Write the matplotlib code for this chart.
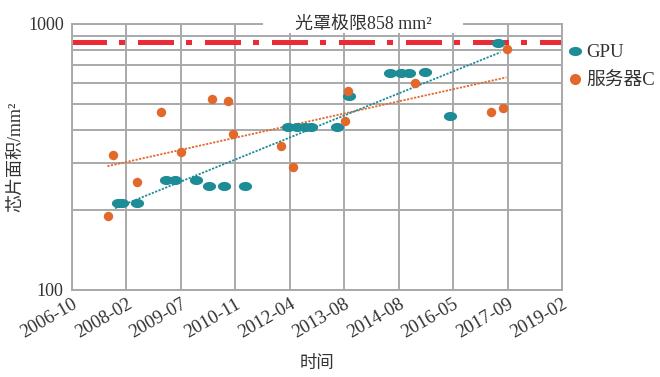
import matplotlib
matplotlib.use("Agg")
import matplotlib.pyplot as plt
from matplotlib.lines import Line2D
from matplotlib.patches import Rectangle
from matplotlib.path import Path
from matplotlib.ticker import FixedLocator, NullFormatter
import numpy as np

# Category positions on the time axis (evenly spaced labels)
tick_labels = ["2006-10", "2008-02", "2009-07", "2010-11", "2012-04",
               "2013-08", "2014-08", "2016-05", "2017-09", "2019-02"]

# GPU die areas (x in tick-label units, y in mm^2)
gpu_x = [0.84, 0.92, 1.19, 1.73, 1.89, 2.28, 2.52, 2.79, 3.18,
         3.97, 4.13, 4.28, 4.39, 4.86, 5.08, 5.84, 6.04, 6.19, 6.48,
         6.94, 7.82]
gpu_y = [212, 212, 212, 259, 259, 260, 245, 245, 245,
         411, 411, 411, 411, 411, 536, 656, 656, 656, 658,
         451, 851]

# Server CPU die areas
cpu_x = [0.67, 0.75, 1.19, 1.63, 2.00, 2.58, 2.87, 2.95, 3.84, 4.05,
         5.01, 5.07, 6.30, 7.70, 7.91, 7.99]
cpu_y = [190, 322, 255, 467, 330, 524, 512, 386, 348, 291,
         433, 560, 599, 467, 482, 808]

# Trend line end points
gpu_trend_x = [0.79, 7.87]
gpu_trend_y = [203, 783]
cpu_trend_x = [0.65, 7.98]
cpu_trend_y = [292, 630]

reticle_limit = 858

teal = "#1e8c96"
orange = "#e2692c"
red = "#ea2b36"
grid_c = "#a9a9a9"

latin_cjk = ["Liberation Serif", "Noto Sans CJK SC"]

# Horizontal ellipse marker for the GPU series
t = np.linspace(0, 2 * np.pi, 60)
ellipse = Path(np.column_stack([1.45 * np.cos(t), np.sin(t)]), closed=True)

fig = plt.figure(figsize=(6.6, 3.77), dpi=100)
ax = fig.add_axes([72 / 660, 87 / 377, 490 / 660, 266 / 377])

ax.set_yscale("log")
ax.set_ylim(100, 1000)
ax.set_xlim(0, 9)

ax.set_xticks(range(len(tick_labels)))
ax.set_xticklabels(tick_labels, rotation=30, ha="right", rotation_mode="anchor",
                   family="Liberation Serif", fontsize=13.5, color="#333333")
ax.yaxis.set_major_locator(FixedLocator([100, 1000]))
ax.set_yticklabels(["100", "1000"], family="Liberation Serif", fontsize=13,
                   color="#333333")
ax.yaxis.set_minor_locator(FixedLocator([200, 300, 400, 500, 600, 700, 800, 900]))
ax.yaxis.set_minor_formatter(NullFormatter())
ax.tick_params(which="both", length=0)
ax.tick_params(axis="y", pad=6)
ax.tick_params(axis="x", pad=4)

ax.grid(True, which="both", color=grid_c, linewidth=1.4)
ax.set_axisbelow(True)
for s in ax.spines.values():
    s.set_color(grid_c)
    s.set_linewidth(1.4)

# Reticle limit line
ax.axhline(reticle_limit, color=red, linewidth=3.6,
           linestyle=(0.3, (7.2, 2.4, 1.2, 2.6)), zorder=2)

# Trend lines
ax.plot(cpu_trend_x, cpu_trend_y, color=orange, linewidth=1.3,
        linestyle=(0, (1.2, 0.8)), zorder=3)
ax.plot(gpu_trend_x, gpu_trend_y, color=teal, linewidth=1.3,
        linestyle=(0, (1.2, 0.8)), zorder=3)

# Data points
ax.plot(gpu_x, gpu_y, linestyle="none", marker=ellipse, markersize=9.5,
        color=teal, markeredgewidth=0, zorder=4)
ax.plot(cpu_x, cpu_y, linestyle="none", marker="o", markersize=6.8,
        color=orange, markeredgewidth=0, zorder=5)

# Title sitting in a gap of the top border
ax.add_patch(Rectangle((0.39, 0.966), 0.408, 0.1, transform=ax.transAxes,
                       facecolor="white", edgecolor="none", clip_on=False,
                       zorder=6))
ax.text(0.594, 1.0, "光罩极限858 mm²", transform=ax.transAxes,
        ha="center", va="center", fontsize=13, family=latin_cjk,
        color="#333333", zorder=7)

ax.set_xlabel("时间", family=["Noto Sans CJK SC"], fontsize=12.5,
              color="#333333", labelpad=9)
ax.set_ylabel("芯片面积/mm²", family=latin_cjk, fontsize=13,
              color="#333333")
ax.yaxis.set_label_coords(-0.098, 0.5)

handles = [
    Line2D([], [], linestyle="none", marker=ellipse, markersize=9.5,
           color=teal, markeredgewidth=0),
    Line2D([], [], linestyle="none", marker="o", markersize=8,
           color=orange, markeredgewidth=0),
]
leg = ax.legend(handles, ["GPU", "服务器C"], loc="upper left",
                bbox_to_anchor=(566 / 660, 1 - 44 / 377),
                bbox_transform=fig.transFigure, frameon=False,
                borderpad=0, borderaxespad=0, handlelength=1.0,
                handletextpad=0.1, labelspacing=0.6,
                prop={"family": latin_cjk, "size": 13.5})
for txt in leg.get_texts():
    txt.set_color("#333333")

fig.savefig("out.png", dpi=100, facecolor="white")
